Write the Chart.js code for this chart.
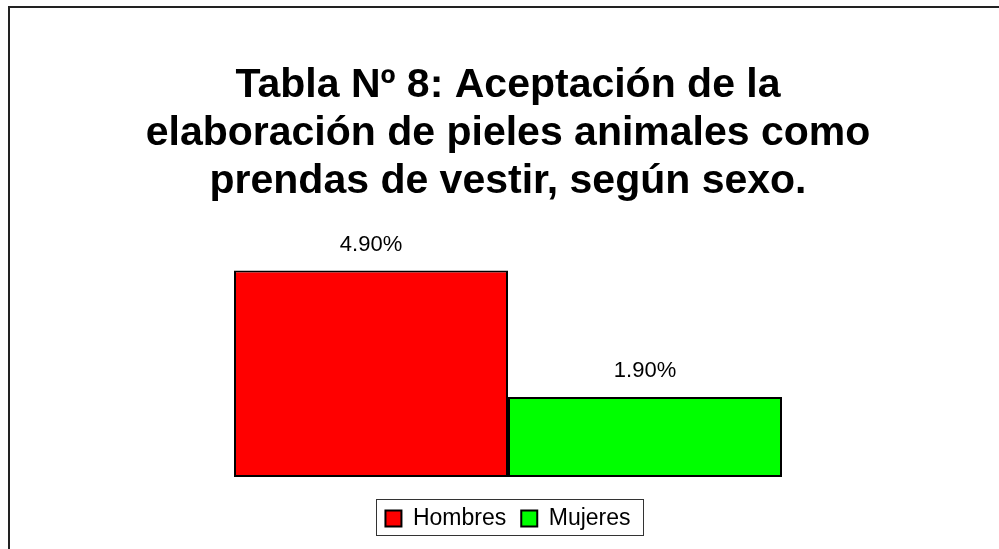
<!DOCTYPE html>
<html lang="es">
<head>
  <meta charset="UTF-8">
  <title>Tabla Nº 8</title>
  <script src="https://cdn.jsdelivr.net/npm/chart.js"></script>
  <style>
    html, body {
      margin: 0;
      padding: 0;
      background-color: #fff;
    }
    .chart-box {
      width: 999px;
      height: 549px;
    }
  </style>
</head>
<body>
  <div class="chart-box">
    <canvas id="sexoChart" width="999" height="549"></canvas>
  </div>

  <script>
    // datos
    const categorias = [''];
    const hombres = [4.9];
    const mujeres = [1.9];
    const tituloLineas = [
      'Tabla Nº 8: Aceptación de la',
      'elaboración de pieles animales como',
      'prendas de vestir, según sexo.'
    ];

    const fuente = '"Liberation Sans", Arial, sans-serif';

    // marco exterior (solo arriba e izquierda)
    const marcoPlugin = {
      id: 'marco',
      beforeDraw(chart) {
        const ctx = chart.ctx;
        ctx.save();
        ctx.strokeStyle = '#222';
        ctx.lineWidth = 2;
        ctx.beginPath();
        ctx.moveTo(9, 549);
        ctx.lineTo(9, 7);
        ctx.lineTo(999, 7);
        ctx.stroke();
        ctx.restore();
      }
    };

    // etiquetas de valor encima de las barras
    const etiquetasPlugin = {
      id: 'etiquetas',
      afterDatasetsDraw(chart) {
        const ctx = chart.ctx;
        ctx.save();
        ctx.font = '22px ' + fuente;
        ctx.fillStyle = '#000';
        ctx.textAlign = 'center';
        ctx.textBaseline = 'middle';
        chart.data.datasets.forEach((ds, i) => {
          chart.getDatasetMeta(i).data.forEach((bar, j) => {
            ctx.fillText(ds.data[j].toFixed(2) + '%', bar.x, bar.y - 26);
          });
        });
        ctx.restore();
      }
    };

    // recuadro alrededor de la leyenda
    const recuadroLeyenda = {
      id: 'recuadroLeyenda',
      afterDraw(chart) {
        const boxes = chart.legend.legendHitBoxes;
        if (!boxes || !boxes.length) return;
        const left = Math.min(...boxes.map(b => b.left)) - 9;
        const right = Math.max(...boxes.map(b => b.left + b.width)) + 13;
        const top = boxes[0].top - 8;
        const bottom = boxes[0].top + boxes[0].height + 5;
        const ctx = chart.ctx;
        ctx.save();
        ctx.strokeStyle = '#333';
        ctx.lineWidth = 1;
        ctx.strokeRect(Math.round(left) + 0.5, Math.round(top) + 0.5, Math.round(right - left), Math.round(bottom - top));
        ctx.restore();
      }
    };

    const ctx = document.getElementById('sexoChart').getContext('2d');
    const chart = new Chart(ctx, {
      type: 'bar',
      data: {
        labels: categorias,
        datasets: [
          {
            label: 'Hombres',
            data: hombres,
            backgroundColor: '#ff0000',
            borderColor: '#000',
            borderWidth: 2,
            borderSkipped: false
          },
          {
            label: 'Mujeres',
            data: mujeres,
            backgroundColor: '#00ff00',
            borderColor: '#000',
            borderWidth: 2,
            borderSkipped: false
          }
        ]
      },
      options: {
        responsive: false,
        animation: false,
        categoryPercentage: 548 / 814,
        barPercentage: 1,
        layout: {
          padding: { left: 101, right: 84, top: 0, bottom: 9 }
        },
        scales: {
          x: {
            display: true,
            grid: { display: false, drawTicks: true, tickLength: 15 },
            border: { display: false },
            ticks: { display: false }
          },
          y: {
            display: false,
            min: 0,
            max: 6
          }
        },
        plugins: {
          title: {
            display: true,
            text: tituloLineas,
            color: '#000',
            font: { family: fuente, size: 41, weight: 'bold', lineHeight: 1.18 },
            padding: { top: 61, bottom: 18 }
          },
          legend: {
            position: 'bottom',
            labels: {
              color: '#000',
              font: { family: fuente, size: 23 },
              boxWidth: 16,
              boxHeight: 16,
              padding: 15
            }
          },
          tooltip: { enabled: false }
        }
      },
      plugins: [marcoPlugin, etiquetasPlugin, recuadroLeyenda]
    });
  </script>
</body>
</html>
